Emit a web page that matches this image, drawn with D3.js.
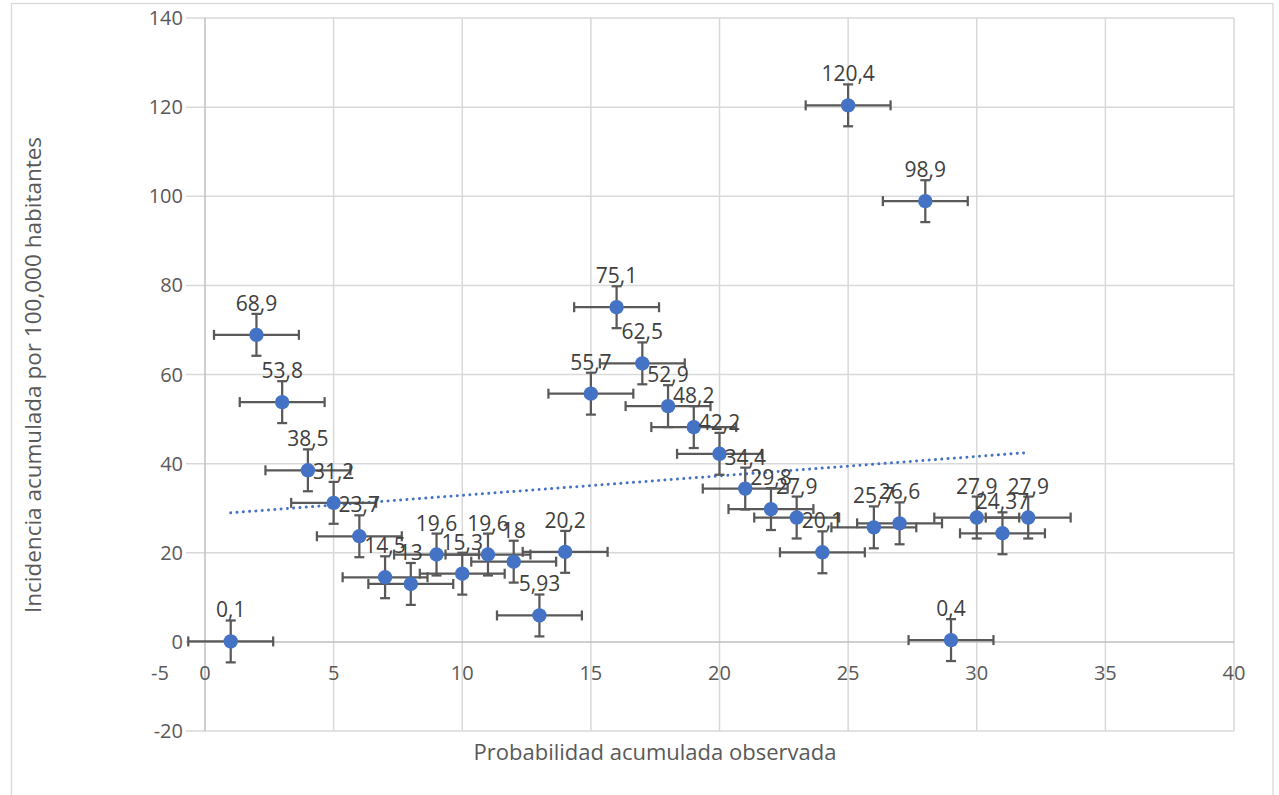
<!DOCTYPE html>
<html>
<head>
<meta charset="utf-8">
<script src="https://cdn.jsdelivr.net/npm/d3@7"></script>
<style>
  html, body { margin: 0; padding: 0; background: #fff; }
  svg { display: block; }
  text { font-family: "Open Sans", sans-serif; }
</style>
</head>
<body>
<svg id="chart" width="1279" height="795"></svg>
<script>
// ---- data ----
const xValues = [1, 2, 3, 4, 5, 6, 7, 8, 9, 10, 11, 12, 13, 14, 15, 16, 17, 18, 19, 20, 21, 22, 23, 24, 25, 26, 27, 28, 29, 30, 31, 32];
const yValues = [0.1, 68.9, 53.8, 38.5, 31.2, 23.7, 14.5, 13, 19.6, 15.3, 19.6, 18, 5.93, 20.2, 55.7, 75.1, 62.5, 52.9, 48.2, 42.2, 34.4, 29.8, 27.9, 20.1, 120.4, 25.7, 26.6, 98.9, 0.4, 27.9, 24.37, 27.9];
const pointLabels = ["0,1", "68,9", "53,8", "38,5", "31,2", "23,7", "14,5", "13", "19,6", "15,3", "19,6", "18", "5,93", "20,2", "55,7", "75,1", "62,5", "52,9", "48,2", "42,2", "34,4", "29,8", "27,9", "20,1", "120,4", "25,7", "26,6", "98,9", "0,4", "27,9", "24,37", "27,9"];
const xError = 1.65;
const yError = 4.7;
const xTicks = [-5, 0, 5, 10, 15, 20, 25, 30, 35, 40];
const yTicks = [-20, 0, 20, 40, 60, 80, 100, 120, 140];
const xTitle = "Probabilidad acumulada observada";
const yTitle = "Incidencia acumulada por 100,000 habitantes";

// ---- layout ----
const svg = d3.select("#chart");
const plotLeft = 186;
const x = d3.scaleLinear().domain([0, 40]).range([205, 1234]);
const y = d3.scaleLinear().domain([-20, 140]).range([731, 18]);
const xMinShown = x.invert(plotLeft);

const gridColor = "#d9d9d9";
const axisColor = "#bfbfbf";
const tickColor = "#595959";
const labelColor = "#404040";
const blue = "#4472C4";
const errColor = "#595959";

// chart frame
svg.append("rect").attr("x", 11.5).attr("y", 3.5).attr("width", 1261.5).attr("height", 800)
  .attr("fill", "none").attr("stroke", gridColor).attr("stroke-width", 1.3);

// gridlines
const grid = svg.append("g");
grid.selectAll("line.h").data(yTicks.filter(v => v !== 0)).enter().append("line")
  .attr("x1", plotLeft).attr("x2", x(40))
  .attr("y1", d => y(d)).attr("y2", d => y(d))
  .attr("stroke", gridColor).attr("stroke-width", 1.5);
grid.selectAll("line.v").data(xTicks.filter(v => v > 0)).enter().append("line")
  .attr("x1", d => x(d)).attr("x2", d => x(d))
  .attr("y1", y(140)).attr("y2", y(-20))
  .attr("stroke", gridColor).attr("stroke-width", 1.5);

// axis lines (crossing at 0)
svg.append("line").attr("x1", plotLeft).attr("x2", x(40)).attr("y1", y(0)).attr("y2", y(0))
  .attr("stroke", axisColor).attr("stroke-width", 1.5);
svg.append("line").attr("x1", x(0)).attr("x2", x(0)).attr("y1", y(140)).attr("y2", y(-20))
  .attr("stroke", axisColor).attr("stroke-width", 1.5);

// tick labels
svg.append("g").selectAll("text").data(yTicks).enter().append("text")
  .attr("x", plotLeft - 3).attr("y", d => y(d) + 7)
  .attr("text-anchor", "end").attr("font-size", 20).attr("fill", tickColor)
  .text(d => d);
svg.append("g").selectAll("text").data(xTicks).enter().append("text")
  .attr("x", d => d < xMinShown ? plotLeft - 26 : x(d))
  .attr("y", y(0) + 38)
  .attr("text-anchor", "middle").attr("font-size", 20).attr("fill", tickColor)
  .text(d => d);

// axis titles
svg.append("text").attr("x", 655).attr("y", 760).attr("text-anchor", "middle")
  .attr("font-size", 22).attr("fill", tickColor).text(xTitle);
svg.append("text").attr("transform", "translate(41,375) rotate(-90)").attr("text-anchor", "middle")
  .attr("font-size", 22.5).attr("fill", tickColor).text(yTitle);

const pts = xValues.map((v, i) => ({ x: v, y: yValues[i], label: pointLabels[i] }));

// trendline (linear least squares)
const mx = d3.mean(pts, d => d.x), my = d3.mean(pts, d => d.y);
const slope = d3.sum(pts, d => (d.x - mx) * (d.y - my)) / d3.sum(pts, d => (d.x - mx) ** 2);
const intercept = my - slope * mx;
const [tx0, tx1] = d3.extent(xValues);
svg.append("line")
  .attr("x1", x(tx0)).attr("y1", y(intercept + slope * tx0))
  .attr("x2", x(tx1)).attr("y2", y(intercept + slope * tx1))
  .attr("stroke", blue).attr("stroke-width", 3)
  .attr("stroke-linecap", "round").attr("stroke-dasharray", "0.01 6.3");

// error bars
const eb = svg.append("g").attr("stroke", errColor).attr("stroke-width", 2.25).attr("fill", "none");
const cap = 5;
pts.forEach(d => {
  const cx = x(d.x), cy = y(d.y);
  const xl = x(d.x - xError), xr = x(d.x + xError);
  const yt = y(d.y + yError), yb = y(d.y - yError);
  eb.append("line").attr("x1", xl).attr("x2", xr).attr("y1", cy).attr("y2", cy);
  eb.append("line").attr("x1", xl).attr("x2", xl).attr("y1", cy - cap).attr("y2", cy + cap);
  eb.append("line").attr("x1", xr).attr("x2", xr).attr("y1", cy - cap).attr("y2", cy + cap);
  eb.append("line").attr("x1", cx).attr("x2", cx).attr("y1", yt).attr("y2", yb);
  eb.append("line").attr("x1", cx - cap).attr("x2", cx + cap).attr("y1", yt).attr("y2", yt);
  eb.append("line").attr("x1", cx - cap).attr("x2", cx + cap).attr("y1", yb).attr("y2", yb);
});

// markers
svg.append("g").selectAll("circle").data(pts).enter().append("circle")
  .attr("cx", d => x(d.x)).attr("cy", d => y(d.y)).attr("r", 7.2).attr("fill", blue);

// data labels
svg.append("g").selectAll("text").data(pts).enter().append("text")
  .attr("x", d => x(d.x)).attr("y", d => y(d.y) - 24)
  .attr("text-anchor", "middle").attr("font-size", 21).attr("fill", labelColor)
  .text(d => d.label);
</script>
</body>
</html>
